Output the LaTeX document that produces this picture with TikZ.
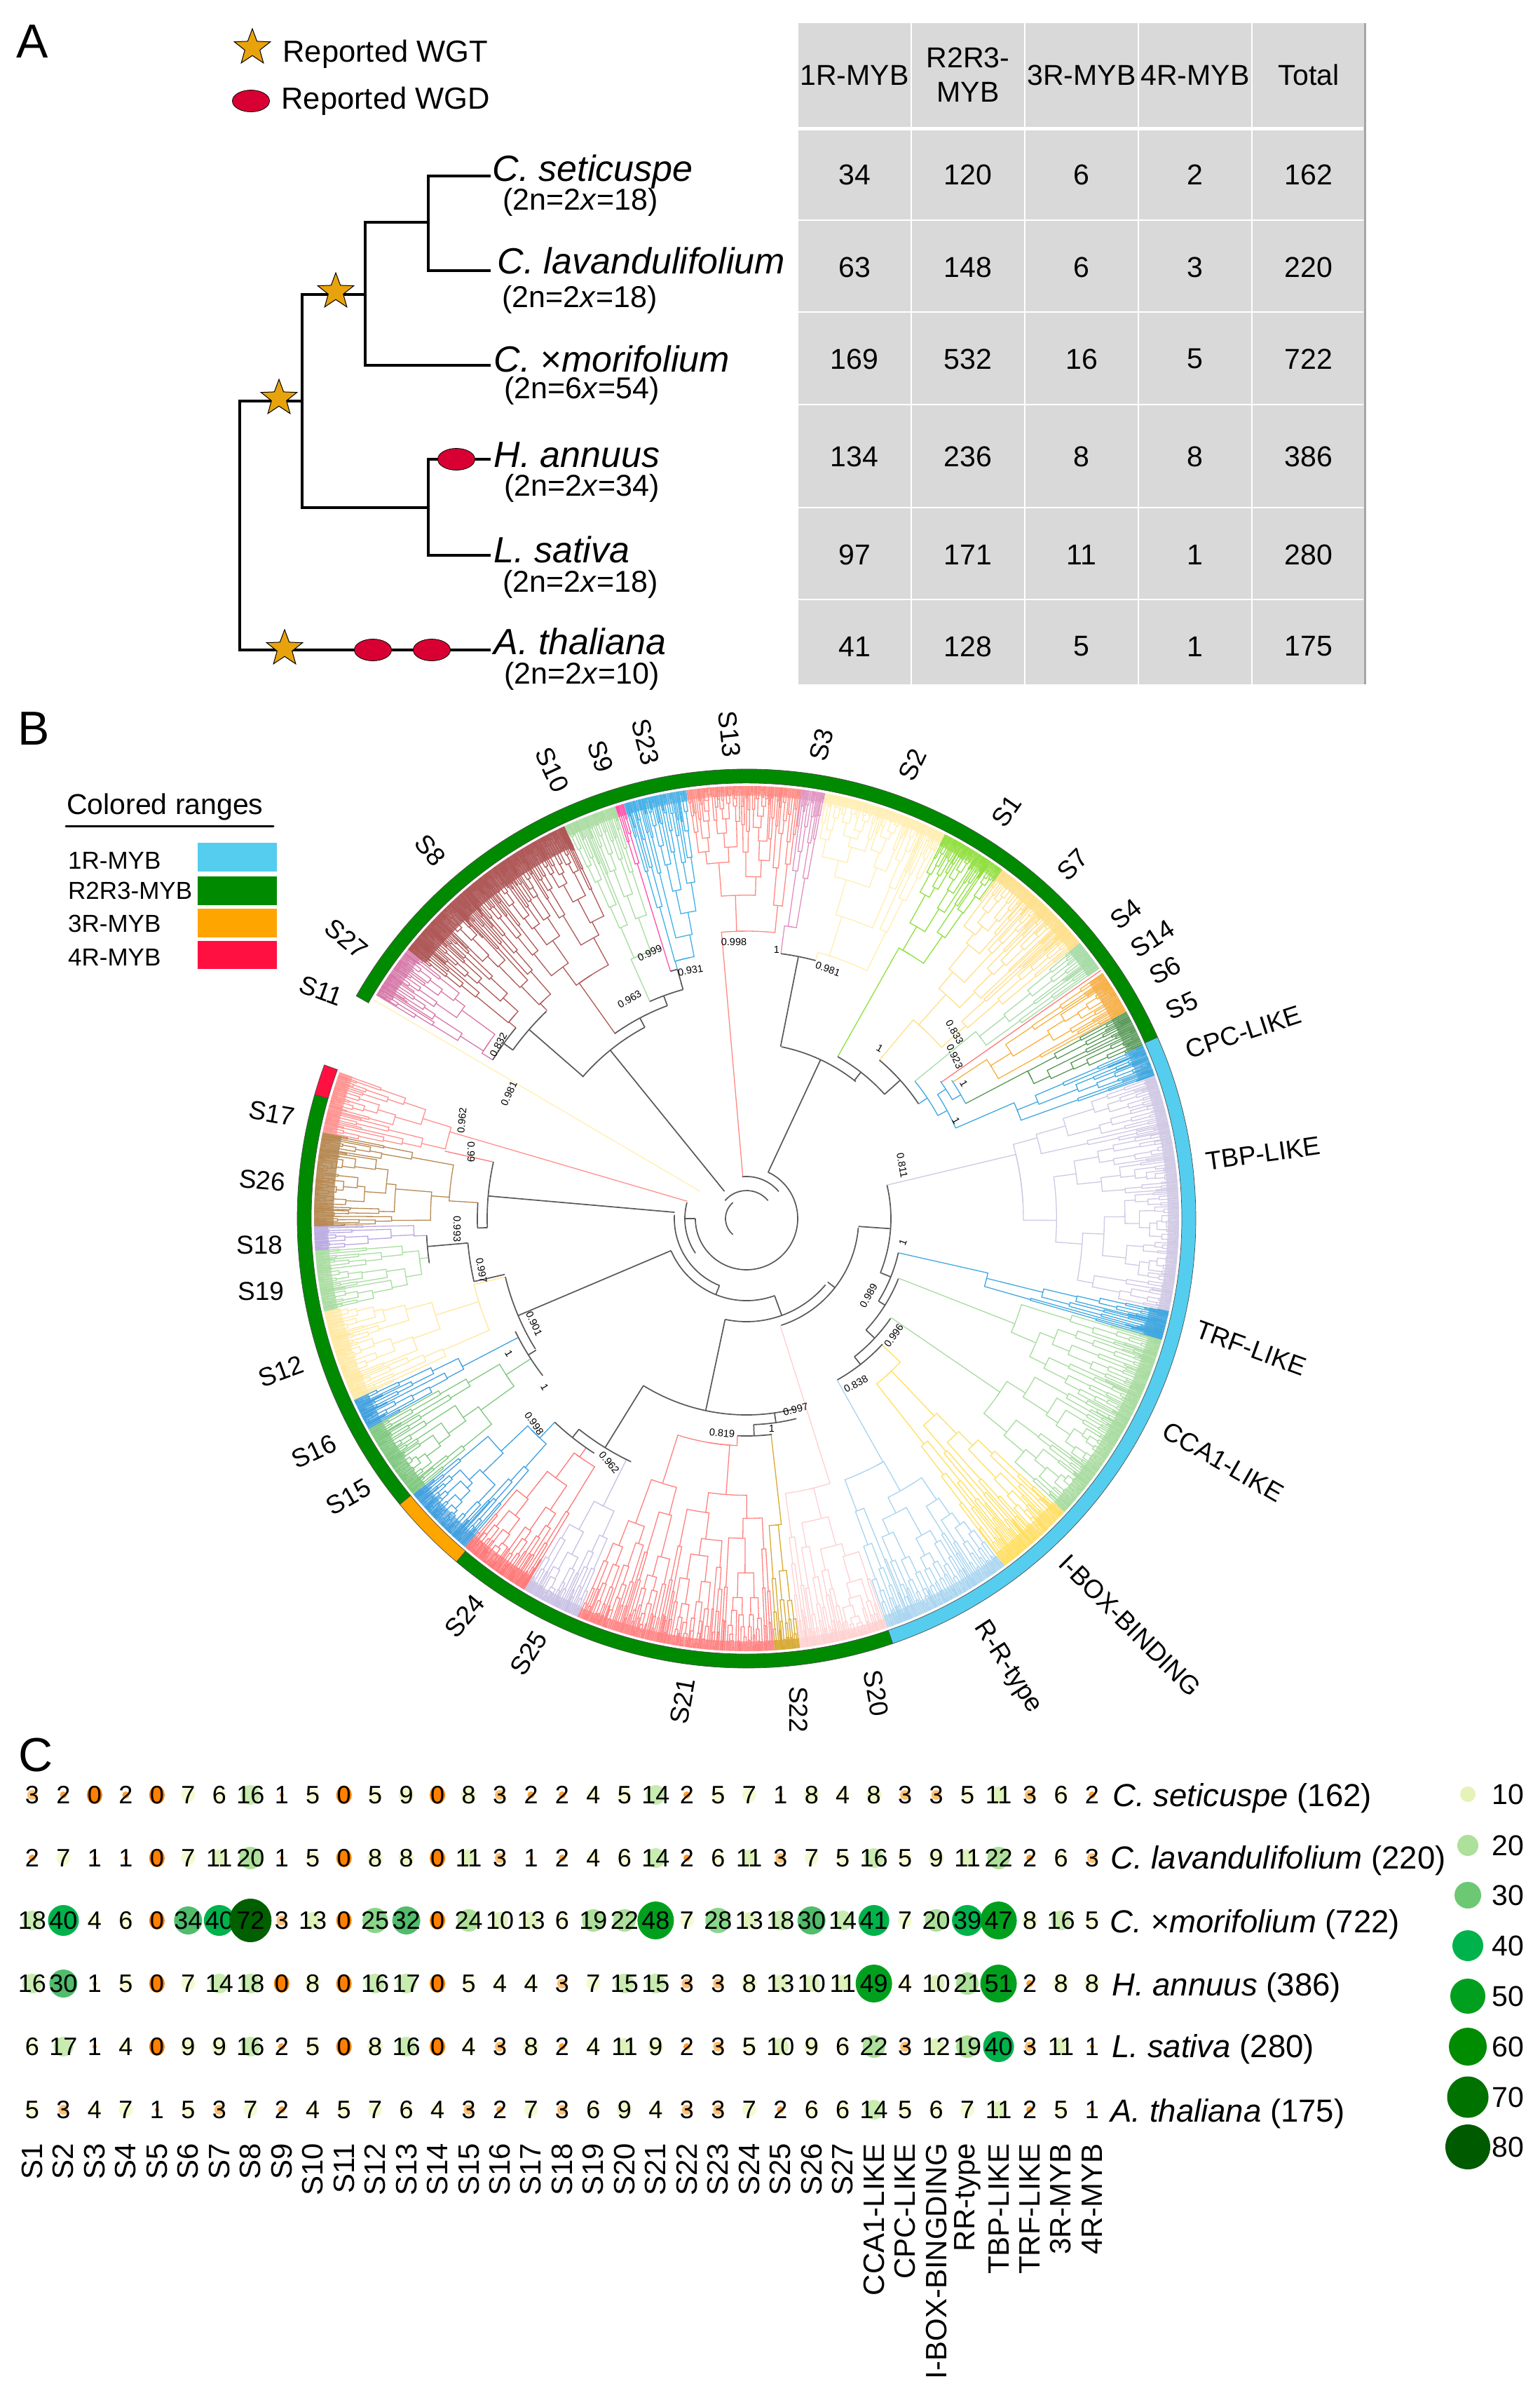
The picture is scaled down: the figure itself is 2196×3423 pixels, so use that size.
\documentclass[tikz,border=0pt]{standalone}
\usepackage{fontspec}
\setmainfont{Liberation Sans}
\usetikzlibrary{shapes.geometric,positioning}
\definecolor{wgtgold}{HTML}{E8A30C}
\definecolor{wgdred}{HTML}{D80032}
\definecolor{tabgray}{HTML}{D9D9D9}
\definecolor{rgreen}{HTML}{008A00}
\definecolor{rblue}{HTML}{55CDEE}
\definecolor{rorange}{HTML}{FFA500}
\definecolor{rred}{HTML}{FF1040}
\definecolor{paleyellow}{HTML}{FFF0B0}
\definecolor{salmonline}{HTML}{FF7878}
\tikzset{
  x=1pt, y=-1pt,
  panel/.style   ={font=\fontsize{68}{70}\selectfont},
  wgt/.style     ={star, star points=5, star point ratio=2.4, draw=black, line width=1pt, fill=wgtgold, minimum size=54pt, inner sep=0pt},
  wgd/.style     ={ellipse, draw=black, line width=.8pt, fill=wgdred, minimum width=53pt, minimum height=31pt, inner sep=0pt},
  legtxt/.style  ={anchor=west, font=\fontsize{43.5}{50}\selectfont},
  species/.style ={anchor=west, font=\fontsize{52}{58}\selectfont\itshape},
  ploidy/.style  ={anchor=center, font=\fontsize{43}{50}\selectfont},
  treeln/.style  ={draw=black, line width=3.6pt},
  tabtxt/.style  ={font=\fontsize{41}{49}\selectfont, align=center},
  backbone/.style={draw=black!65, line width=1.7pt},
  cladeline/.style={line width=1.3pt},
  boot/.style    ={font=\fontsize{14.5}{16}\selectfont},
  cladelab/.style={font=\fontsize{37}{40}\selectfont},
  rangelab/.style={anchor=west, font=\fontsize{35}{40}\selectfont, inner sep=0pt},
  bubble/.style  ={ellipse, inner sep=0pt, draw=none},
  cellval/.style ={font=\fontsize{36}{40}\selectfont},
  rowlab/.style  ={anchor=west, font=\fontsize{45.5}{50}\selectfont},
  collab/.style  ={rotate=90, anchor=east, font=\fontsize{42}{46}\selectfont, inner sep=0pt},
  leglab/.style  ={anchor=west, font=\fontsize{41}{46}\selectfont}
}
\def\rtip{617}
\newcommand{\subtree}[3]{%
  \begingroup
  \pgfmathsetmacro\spn{(#2)-(#1)}%
  \ifdim\spn pt<\tipw pt
    \pgfmathsetmacro\amid{((#1)+(#2))/2}%
    \draw[cladeline,draw=linecol] (\amid:#3 pt) -- (\amid:\rtip pt);
  \else
    \pgfmathsetmacro\am{(#1)+\spn*(0.12+0.76*rnd)}%
    \pgfmathsetmacro\cone{((#1)+\am)/2}%
    \pgfmathsetmacro\ctwo{((#2)+\am)/2}%
    \pgfmathsetmacro\rone{#3+(\rtip-#3)*min(0.9,0.1+0.22*rnd+0.5*\tipw/(\am-(#1)))}%
    \pgfmathsetmacro\rtwo{#3+(\rtip-#3)*min(0.9,0.1+0.22*rnd+0.5*\tipw/((#2)-\am))}%
    \draw[cladeline,draw=linecol] (\cone:\rone pt) -- (\cone:#3 pt) arc[start angle=\cone, end angle=\ctwo, radius=#3 pt] -- (\ctwo:\rtwo pt);
    \edef\next{\noexpand\subtree{#1}{\am}{\rone}}\next
    \edef\next{\noexpand\subtree{\am}{#2}{\rtwo}}\next
  \fi
  \endgroup
}
% a1, a2, stem angle, stem start, root radius, tip width, line, band, band depth
\newcommand{\clade}[9]{%
  \definecolor{linecol}{HTML}{#7}\definecolor{bandcol}{HTML}{#8}%
  \def\tipw{#6}%
  \pgfmathsetmacro\rband{\rtip-#9}%
  \pgfmathsetmacro\amid{((#1)+(#2))/2}%
  \fill[bandcol] (#1:\rband pt) arc[start angle=#1, end angle=#2, radius=\rband pt] -- (#2:\rtip pt) arc[start angle=#2, end angle=#1, radius=\rtip pt] -- cycle;
  \draw[cladeline,draw=linecol] (#3:#4 pt) -- (#3:#5 pt) arc[start angle=#3, end angle=\amid, radius=#5 pt];
  \subtree{#1}{#2}{#5}
}
\newcommand{\ringseg}[3]{%
  \filldraw[fill=#3, draw=black!70, line width=.7pt] (#1:621pt) arc[start angle=#1, end angle=#2, radius=621pt] -- (#2:641pt) arc[start angle=#2, end angle=#1, radius=641pt] -- cycle;
}
\newcommand{\setbubble}[1]{%
  \def\bcol{005F00}\def\brx{30}\def\bry{31}%
  \ifnum#1<72 \def\bcol{00A01E}\def\brx{26}\def\bry{27}\fi
  \ifnum#1<47 \def\bcol{00B24B}\def\brx{22}\def\bry{22}\fi
  \ifnum#1<39 \def\bcol{50BC6C}\def\brx{20}\def\bry{20}\fi
  \ifnum#1<30 \def\bcol{8AD68A}\def\brx{18}\def\bry{18}\fi
  \ifnum#1<25 \def\bcol{ADE09A}\def\brx{16}\def\bry{16}\fi
  \ifnum#1<19 \def\bcol{C8EBB0}\def\brx{14}\def\bry{14}\fi
  \ifnum#1<14 \def\bcol{E0F2BC}\def\brx{12}\def\bry{12}\fi
  \ifnum#1<10 \def\bcol{EEF8C8}\def\brx{11}\def\bry{11}\fi
  \ifnum#1<8 \def\bcol{F5FAD0}\def\brx{10}\def\bry{10}\fi
  \ifnum#1<7 \def\bcol{FBFBD4}\def\brx{9}\def\bry{9}\fi
  \ifnum#1<4 \def\bcol{FFC070}\def\brx{7}\def\bry{7}\fi
  \ifnum#1<3 \def\bcol{FFA030}\def\brx{5}\def\bry{5}\fi
  \ifnum#1<2 \def\bcol{FF8C00}\def\brx{3}\def\bry{3}\fi
  \ifnum#1<1 \def\bcol{FF8000}\def\brx{11}\def\bry{13}\fi
}
\begin{document}
\begin{tikzpicture}
\path[use as bounding box, fill=white] (0,0) rectangle (2196,3423);
\pgfmathsetseed{11}
% panel A
\node[panel] (lettera) at (46,59) {A};
\node[wgt] (legwgt) at (360,68) {};
\node[legtxt] (legwgttxt) at (400,77) {Reported WGT};
\node[wgd] (legwgd) at (358,144) {};
\node[legtxt] (legwgdtxt) at (398,144) {Reported WGD};

\coordinate (tset) at (700,251);
\coordinate (tlav) at (700,386);
\coordinate (tmor) at (700,521);
\coordinate (tann) at (700,655);
\coordinate (tsat) at (700,792);
\coordinate (ttha) at (700,927);
\coordinate (nchry) at (611,317);
\coordinate (nmor) at (521,420);
\coordinate (nast) at (431,572);
\coordinate (nlac) at (611,724);
\coordinate (nroot) at (342,572);
\draw[treeln] (tset) -| (nchry) |- (tlav);
\draw[treeln] (nchry) -| (521,521) -- (tmor);
\draw[treeln] (nmor) |- (nchry);
\draw[treeln] (nmor) -| (nast) |- (nlac);
\draw[treeln] (tann) -| (nlac) |- (tsat);
\draw[treeln] (nast) -- (nroot) |- (ttha);

\node[wgt] (star1) at (479,416) {};
\node[wgt] (star2) at (398,568) {};
\node[wgt] (star3) at (406,925) {};
\node[wgd] (dup1) at (651,655) {};
\node[wgd] (dup2) at (532,927) {};
\node[wgd] (dup3) at (616,927) {};

\node[species] (nset) at (699,245) {C. seticuspe};
\node[species] (nlav) at (706,372) {C. lavandulifolium};
\node[species] (nmorf) at (701,512) {C. ×morifolium};
\node[species] (nann) at (701,649) {H. annuus};
\node[species] (nsat) at (701,784) {L. sativa};
\node[species] (ntha) at (701,915) {A. thaliana};
\node[ploidy] (pset) at (828,288) {(2n=2\textit{x}=18)};
\node[ploidy] (plav) at (827,427) {(2n=2\textit{x}=18)};
\node[ploidy] (pmor) at (830,557) {(2n=6\textit{x}=54)};
\node[ploidy] (pann) at (830,696) {(2n=2\textit{x}=34)};
\node[ploidy] (psat) at (828,833) {(2n=2\textit{x}=18)};
\node[ploidy] (ptha) at (830,964) {(2n=2\textit{x}=10)};

% table
\fill[tabgray] (1139,33) rectangle (1947,976);
\draw[black!35, line width=3pt] (1947,33) -- (1947,976);
\foreach \xl in {1300,1462,1624,1786}
  \draw[white, line width=1.6pt] (\xl,33) -- (\xl,976);
\foreach \yl in {314,445,577,724,855}
  \draw[white, line width=2pt] (1139,\yl) -- (1945,\yl);
\draw[white, line width=5pt] (1139,183) -- (1945,183);
\foreach \txt [count=\i] in {1R-MYB,{R2R3-\\MYB},3R-MYB,4R-MYB,Total}
  \node[tabtxt] (h\i) at ({1219+162*(\i-1)},107) {\txt};
\foreach \yy/\vals [count=\j] in {249/{34,120,6,2,162},381/{63,148,6,3,220},512/{169,532,16,5,722},651/{134,236,8,8,386},791/{97,171,11,1,280},922/{41,128,5,1,175}}
  \foreach \v [count=\i] in \vals
    \node[tabtxt] (c\j-\i) at ({1219+162*(\i-1)},\yy) {\v};

% panel B
\node[panel] (letterb) at (48,1039) {B};
\node[anchor=west, inner sep=0pt, font=\fontsize{41}{44}\selectfont] (rangetitle) at (95,1151) {Colored ranges};
\draw[black, line width=3pt, line cap=round] (94,1178) -- (390,1178);
\foreach \txt/\yy/\ya/\yb/\col [count=\i] in {1R-MYB/1227/1202/1243/rblue,R2R3-MYB/1270/1250/1291/rgreen,3R-MYB/1317/1296/1337/rorange,4R-MYB/1365/1342/1382/rred}{
  \node[rangelab] (rlab\i) at (97,\yy) {\txt};
  \fill[\col] (282,\ya) rectangle (395,\yb);
}

\begin{scope}[shift={(1065,1738)}]
\ringseg{23.8}{150.3}{rgreen}
\ringseg{160}{164}{rred}
\ringseg{164}{219.5}{rgreen}
\ringseg{219.5}{229.8}{rorange}
\ringseg{229.8}{289}{rgreen}
\ringseg{289}{383.8}{rblue}

\clade{141.5}{148.9}{148}{427}{445}{.28}{D878A8}{E0A8C8}{22}
\clade{136}{141.5}{140.4}{427}{440}{.2}{B05858}{BC7878}{32}
\clade{130}{136}{133.8}{411}{425}{.2}{B05858}{BC7878}{32}
\clade{114.9}{130}{125.4}{324}{412}{.2}{B05858}{BC7878}{32}
\clade{107.7}{114.9}{114}{339}{405}{.3}{A8DCA0}{C0E4B8}{16}
\clade{106.5}{107.7}{107.1}{369}{530}{.3}{FF50A8}{FF80C0}{16}
\clade{98}{106.5}{105.5}{369}{381}{.3}{40B0E8}{90C8E8}{16}
\clade{82.7}{98}{95}{60}{410}{.3}{FF8880}{FFB0A8}{14}
\clade{79.5}{82.7}{82.6}{381}{421}{.3}{E090C0}{E8C0D8}{14}
\clade{62.7}{79.5}{75}{381}{393}{.3}{FFEFB0}{FFF2C8}{14}
\clade{53.7}{62.7}{60.6}{265}{443}{.25}{90E040}{BCE880}{18}
\clade{39.6}{53.7}{50}{295}{370}{.25}{FFE08C}{FCE8A8}{18}
\clade{35.3}{39.6}{39.2}{310}{422}{.3}{A8DCA8}{B8E0B8}{20}
\clade{28.6}{34.6}{33.5}{353}{411}{.3}{F8B040}{F4C078}{24}
\clade{23.6}{28.6}{27.7}{353}{453}{.3}{589858}{90BC90}{24}
\clade{19.3}{23.6}{23.4}{325}{416}{.25}{40A8E0}{88C4E8}{24}
\clade{-12.4}{19.3}{13.4}{206}{395}{.3}{D0C8E4}{DAD4EA}{16}
\clade{-16.3}{-12.4}{-12.7}{222}{353}{.22}{40A8E0}{78B8E0}{28}
\clade{-28}{-16.3}{-21.4}{233}{411}{.28}{A8DCA0}{C0E4B8}{20}
\clade{-42.7}{-28}{-34.4}{250}{438}{.28}{A8DCA0}{C0E4B8}{20}
\clade{-53.4}{-42.7}{-43}{264}{300}{.3}{FFE060}{FFE8A0}{22}
\clade{-71}{-53.4}{-60.7}{264}{398}{.3}{A8D4F0}{C8E4F4}{18}
\clade{-82.9}{-71}{-72.5}{160}{396}{.3}{FFD0D0}{FFE0E0}{14}
\clade{-86.3}{-82.9}{-83.5}{310}{439}{.3}{D8A830}{DCBC60}{14}
\clade{247}{273.7}{267.6}{310}{324}{.3}{FF8080}{FFA8A8}{14}
\clade{239.1}{247}{243.5}{384}{458}{.3}{C8C0E4}{D8D4EC}{16}
\clade{229.4}{239.1}{235}{399}{415}{.25}{FF7878}{FFA0A0}{22}
\clade{219.6}{229.4}{226.7}{399}{430}{.25}{40A0E0}{88C0E8}{22}
\clade{209.1}{219.6}{213}{367}{409}{.28}{80C880}{A0D4A0}{22}
\clade{204.8}{209.1}{207.5}{367}{457}{.25}{40A0E0}{80C0E8}{22}
\clade{192.4}{204.8}{193.6}{354}{400}{.3}{FFE8A0}{FFF0C0}{24}
\clade{184.2}{192.4}{187}{457}{470}{.3}{A8DCA0}{C0E4B8}{20}
\clade{181}{184.2}{183}{457}{475}{.3}{B8A8E0}{C8BCE8}{20}
\clade{168.5}{181}{176.6}{384}{425}{.25}{B88850}{C0A078}{28}
\clade{160.2}{168.5}{163.7}{88}{441}{.3}{FF9090}{FFB0A8}{20}

\draw[cladeline, draw=paleyellow] (149.6:77pt) -- (149.6:617pt);
\draw[cladeline, draw=salmonline] (35:339pt) -- (35:617pt);
\draw[cladeline, draw=salmonline] (167.4:370pt) -- (167.4:441pt);

\foreach \rr/\s/\e in {250/51.4/78.5,381/75/82.6,265/42/60.6,295/33.7/50,206/13.4/-22,222/-12.7/-32,233/-21.6/-43,250/-34.7/-52,264/-42.7/-60.6,160/-72/-4.6,147/258/320,117/203/290,103/177/248,88/165/214,73/180/304,73/-56/65,60/96/40,40/140/40,30/130/230,370/167.4/182,384/176.6/182,354/193.6/211.7,399/185/193,457/183/188,367/206/217.6,280/238.3/284,294/272/284,310/267.6/276.7,384/231.5/244.6,399/226.7/237,309/118/139.2,411/134/144.2,427/140.4/148,324/110.4/125.5,339/105.5/114,369/105.5/107.1}
  \draw[backbone] (\s:\rr pt) arc[start angle=\s, end angle=\e, radius=\rr pt];
\foreach \aa/\p/\q in {175/103/370,182/370/384,203/117/354,193/354/399,185/399/457,212/354/367,258/147/280,-81.8/281/294,272/294/310,238.3/280/384,231.5/384/399,129/50/309,139/309/411,144.2/411/427,118/309/324,110.4/324/339,105.5/339/369,65/73/250,78.8/250/381,52/250/265,42/265/295,-4/160/206,-22/206/222,-32/222/233,-43/233/250,-52/250/264,-38/147/160,290/117/147,248/103/117,180/73/88}
  \draw[backbone] (\aa:\p pt) -- (\aa:\q pt);
\definecolor{linecol}{HTML}{40A8E0}
\foreach \rr/\s/\e in {310/28.3/39.2,325/33/23.4,339/35.3/30,353/34/27.7}
  \draw[cladeline, draw=linecol] (\s:\rr pt) arc[start angle=\s, end angle=\e, radius=\rr pt];
\foreach \aa/\p/\q in {33.7/295/310,28.3/310/325,33/325/339,30/339/353}
  \draw[cladeline, draw=linecol] (\aa:\p pt) -- (\aa:\q pt);
\end{scope}

\foreach \xx/\yy/\rr/\t [count=\i] in {711/1490/62/0.832,726/1560/65/0.981,659/1598/85/0.962,672/1643/-90/0.99,652/1753/-90/0.993,687/1812/-80/0.997,762/1888/-65/0.901,726/1930/-60/1,777/1978/-60/1,762/2030/-55/0.998,869/2086/-50/0.962,1030/2044/-5/0.819,1101/2037/0/1,1135/2010/15/0.997,1221/1974/28/0.838,1275/1905/55/0.996,1239/1848/60/0.989,1288/1772/70/1,1287/1662/-80/0.811,1364/1598/-60/1,1375/1545/-60/1,1362/1507/-65/0.923,1362/1472/-60/0.833,1255/1495/-30/1,1181/1382/-20/0.981,1108/1354/0/1,1047/1343/0/0.998,985/1384/10/0.931,927/1359/25/0.999,898/1425/30/0.963}
  \node[boot, rotate=\rr] (boot\i) at (\xx,\yy) {\t};

\foreach \xx/\yy/\rr/\t [count=\i] in {1041/1047/-84/S13,921/1058/-75/S23,857/1079/-72/S9,788/1098/-65/S10,614/1213/-50/S8,494/1339/-40/S27,458/1413/-20/S11,1172/1062/75/S3,1302/1091/65/S2,1436/1157/55/S1,1530/1233/45/S7,1606/1304/38/S4,1644/1339/33/S14,1662/1384/28/S6,1686/1434/25/S5,1774/1472/18/CPC-LIKE,1802/1645/8/TBP-LIKE,1785/1923/-20/TRF-LIKE,1745/2085/-30/CCA1-LIKE,1612/2318/-45/I-BOX-BINDING,1437/2378/-57/R-R-type,1250/2415/-80/S20,1139/2438/-90/S22,974/2426/80/S21,754/2358/58/S25,663/2305/50/S24,497/2135/30/S15,448/2070/25/S16,401/1956/20/S12,372/1842/0/S19,370/1776/0/S18,374/1684/-5/S26,388/1588/-10/S17}
  \node[cladelab, rotate=\rr] (clab\i) at (\xx,\yy) {\t};

% panel C
\node[panel] (letterc) at (51,2503) {C};
\foreach \yy/\vals [count=\j] in {
  2560/{3,2,0,2,0,7,6,16,1,5,0,5,9,0,8,3,2,2,4,5,14,2,5,7,1,8,4,8,3,3,5,11,3,6,2},
  2650/{2,7,1,1,0,7,11,20,1,5,0,8,8,0,11,3,1,2,4,6,14,2,6,11,3,7,5,16,5,9,11,22,2,6,3},
  2739/{18,40,4,6,0,34,40,72,3,13,0,25,32,0,24,10,13,6,19,22,48,7,28,13,18,30,14,41,7,20,39,47,8,16,5},
  2829/{16,30,1,5,0,7,14,18,0,8,0,16,17,0,5,4,4,3,7,15,15,3,3,8,13,10,11,49,4,10,21,51,2,8,8},
  2919/{6,17,1,4,0,9,9,16,2,5,0,8,16,0,4,3,8,2,4,11,9,2,3,5,10,9,6,22,3,12,19,40,3,11,1},
  3009/{5,3,4,7,1,5,3,7,2,4,5,7,6,4,3,2,7,3,6,9,4,3,3,7,2,6,6,14,5,6,7,11,2,5,1}}
  \foreach \v [count=\i] in \vals {
    \setbubble{\v}
    \definecolor{bubcol}{HTML}{\bcol}
    \node[bubble, fill=bubcol, minimum width=2*\brx pt, minimum height=2*\bry pt] (b\j-\i) at ({46+44.47*(\i-1)},\yy) {};
    \node[cellval] (v\j-\i) at (b\j-\i) {\v};
  };
\node[rowlab] (row1) at (1584,2565) {\textit{C. seticuspe} (162)};
\node[rowlab] (row2) at (1581,2654) {\textit{C. lavandulifolium} (220)};
\node[rowlab] (row3) at (1580,2745) {\textit{C. ×morifolium} (722)};
\node[rowlab] (row4) at (1583,2835) {\textit{H. annuus} (386)};
\node[rowlab] (row5) at (1583,2923) {\textit{L. sativa} (280)};
\node[rowlab] (row6) at (1581,3015) {\textit{A. thaliana} (175)};

\foreach \t [count=\i] in {S1,S2,S3,S4,S5,S6,S7,S8,S9,S10,S11,S12,S13,S14,S15,S16,S17,S18,S19,S20,S21,S22,S23,S24,S25,S26,S27,CCA1-LIKE,CPC-LIKE,I-BOX-BINGDING,RR-type,TBP-LIKE,TRF-LIKE,3R-MYB,4R-MYB}
  \node[collab] (col\i) at ({46+44.47*(\i-1)},3057) {\t};

\foreach \val/\yy/\rr/\col [count=\i] in {10/2559/11/E5F2B8,20/2632/15/ADE09A,30/2703/19/6CC873,40/2775/22/00B24B,50/2847/25/00A01E,60/2919/27/008C00,70/2991/29.5/007200,80/3062/32/005A00}{
  \definecolor{bubcol}{HTML}{\col}
  \node[bubble, fill=bubcol, minimum width=2*\rr pt, minimum height=2*\rr pt] (sz\i) at (2094,\yy) {};
  \node[leglab] (szt\i) at (2125,\yy) {\val};
}
\end{tikzpicture}
\end{document}
